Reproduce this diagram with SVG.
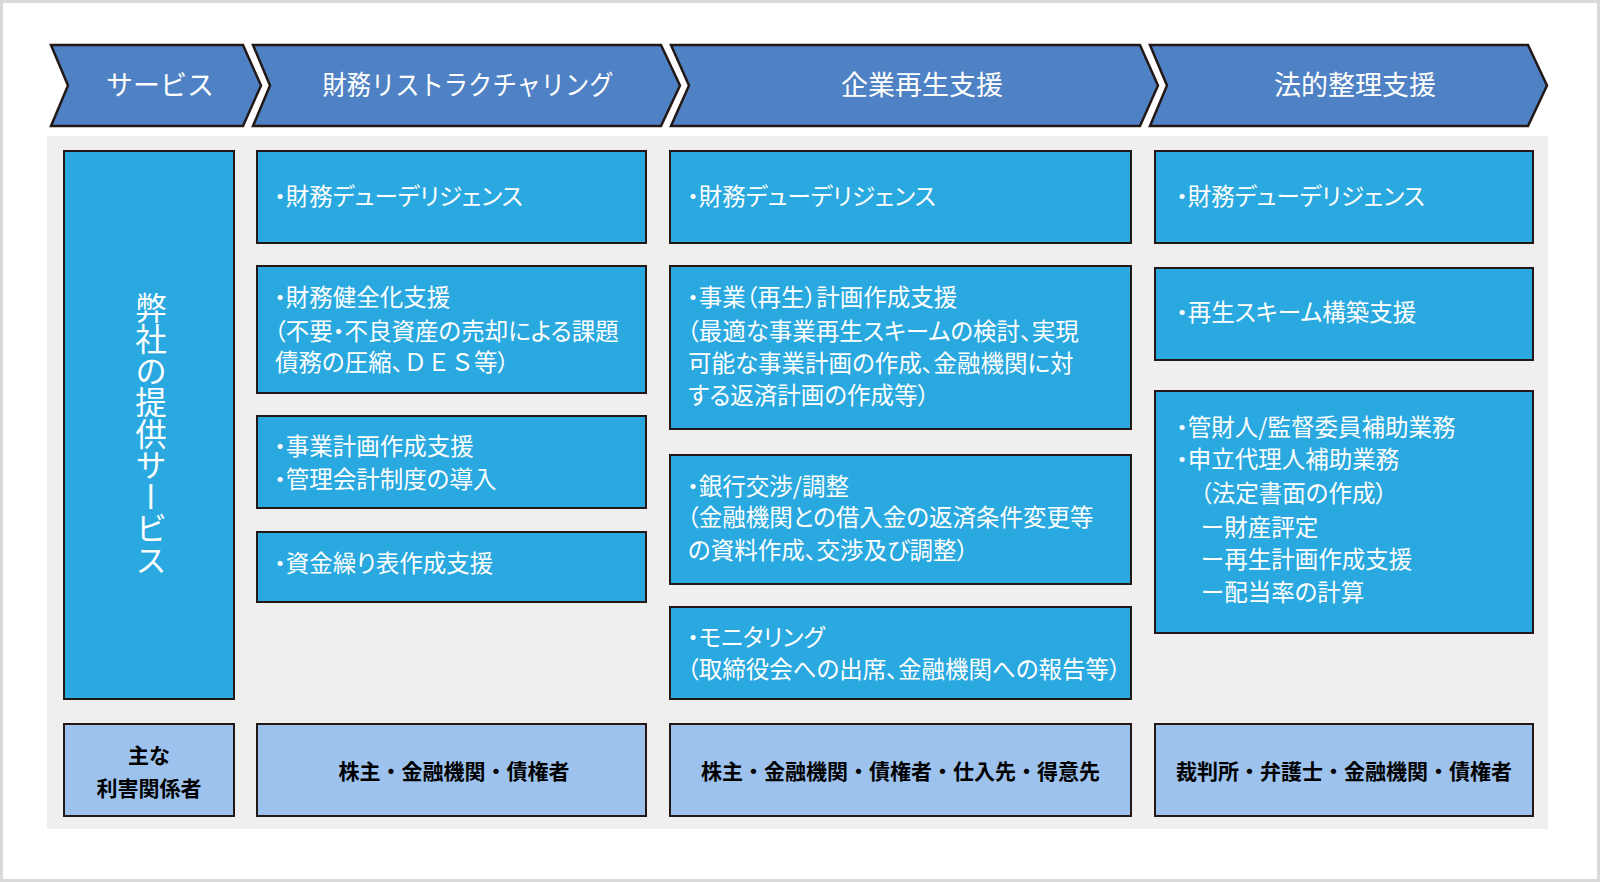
<svg xmlns="http://www.w3.org/2000/svg" width="1600" height="882" viewBox="0 0 1600 882">
<style>
text{font-family:"Noto Sans CJK JP","Noto Sans",sans-serif;}
.chev{fill:#4f82c4;stroke:#231815;stroke-width:2.5;stroke-linejoin:miter;}
.head{fill:#ffffff;font-size:27px;text-anchor:middle;}
.box{fill:#29a9e0;stroke:#231815;stroke-width:2;}
.sub{fill:#9cc2ed;stroke:#231815;stroke-width:2;}
.t{fill:#ffffff;font-size:23.5px;font-feature-settings:"palt" 1;}
.fw{font-feature-settings:normal;}
.b{fill:#000000;font-size:21px;font-weight:bold;text-anchor:middle;}
</style>
<rect x="1.5" y="1.5" width="1597" height="879" fill="#ffffff" stroke="#d9d9d9" stroke-width="3"/>
<rect x="47" y="136" width="1501" height="693" fill="#efefef"/>

<g id="header-service">
<polygon class="chev" points="51,45 243,45 261,85.5 243,126 51,126 68,85.5"/>
<text class="head" x="160" y="95">サービス</text>
</g>
<g id="header-restructuring">
<polygon class="chev" points="253,45 661,45 680,85.5 661,126 253,126 270,85.5"/>
<text class="head" x="468" y="95" textLength="291" lengthAdjust="spacingAndGlyphs">財務リストラクチャリング</text>
</g>
<g id="header-revival">
<polygon class="chev" points="671,45 1140,45 1158,85.5 1140,126 671,126 689,85.5"/>
<text class="head" x="922" y="95">企業再生支援</text>
</g>
<g id="header-legal">
<polygon class="chev" points="1150,45 1528,45 1547,85.5 1528,126 1150,126 1167,85.5"/>
<text class="head" x="1355" y="95">法的整理支援</text>
</g>

<g id="services-label">
<rect class="box" x="64" y="151" width="170" height="548"/>
<text x="151" y="434" fill="#ffffff" font-size="31.5" text-anchor="middle" writing-mode="vertical-rl" style="text-orientation:upright">弊社の提供サービス</text>
</g>

<g id="r-dd">
<rect class="box" x="257" y="151" width="389" height="92"/>
<text class="t" x="274" y="205">・財務デューデリジェンス</text>
</g>
<g id="r-health">
<rect class="box" x="257" y="266" width="389" height="127"/>
<text class="t" x="274" y="306">・財務健全化支援</text>
<text class="t" x="274" y="340">（不要・不良資産の売却による課題</text>
<text class="t" x="275" y="371">債務の圧縮、<tspan class="fw">ＤＥＳ</tspan>等）</text>
</g>
<g id="r-plan">
<rect class="box" x="257" y="416" width="389" height="92"/>
<text class="t" x="274" y="455">・事業計画作成支援</text>
<text class="t" x="274" y="488">・管理会計制度の導入</text>
</g>
<g id="r-cash">
<rect class="box" x="257" y="532" width="389" height="70"/>
<text class="t" x="274" y="572">・資金繰り表作成支援</text>
</g>

<g id="v-dd">
<rect class="box" x="670" y="151" width="461" height="92"/>
<text class="t" x="687" y="205">・財務デューデリジェンス</text>
</g>
<g id="v-plan">
<rect class="box" x="670" y="266" width="461" height="163"/>
<text class="t" x="687" y="306">・事業（再生）計画作成支援</text>
<text class="t" x="687" y="340">（最適な事業再生スキームの検討、実現</text>
<text class="t" x="688" y="372">可能な事業計画の作成、金融機関に対</text>
<text class="t" x="688" y="404">する返済計画の作成等）</text>
</g>
<g id="v-bank">
<rect class="box" x="670" y="455" width="461" height="129"/>
<text class="t" x="687" y="495">・銀行交渉/調整</text>
<text class="t" x="687" y="526">（金融機関との借入金の返済条件変更等</text>
<text class="t" x="688" y="559">の資料作成、交渉及び調整）</text>
</g>
<g id="v-monitor">
<rect class="box" x="670" y="607" width="461" height="92"/>
<text class="t" x="687" y="646">・モニタリング</text>
<text class="t" x="687" y="678">（取締役会への出席、金融機関への報告等）</text>
</g>

<g id="l-dd">
<rect class="box" x="1155" y="151" width="378" height="92"/>
<text class="t" x="1176" y="205">・財務デューデリジェンス</text>
</g>
<g id="l-scheme">
<rect class="box" x="1155" y="268" width="378" height="92"/>
<text class="t" x="1176" y="321">・再生スキーム構築支援</text>
</g>
<g id="l-trustee">
<rect class="box" x="1155" y="391" width="378" height="242"/>
<text class="t" x="1176" y="436">・管財人/監督委員補助業務</text>
<text class="t" x="1176" y="468">・申立代理人補助業務</text>
<text class="t" x="1200" y="502">（法定書面の作成）</text>
<text class="t" x="1201" y="536">ー財産評定</text>
<text class="t" x="1201" y="568">ー再生計画作成支援</text>
<text class="t" x="1201" y="601">ー配当率の計算</text>
</g>

<g id="stake-label">
<rect class="sub" x="64" y="724" width="170" height="92"/>
<text class="b" x="149" y="763">主な</text>
<text class="b" x="149" y="796">利害関係者</text>
</g>
<g id="stake-restructuring">
<rect class="sub" x="257" y="724" width="389" height="92"/>
<text class="b" x="454" y="779">株主・金融機関・債権者</text>
</g>
<g id="stake-revival">
<rect class="sub" x="670" y="724" width="461" height="92"/>
<text class="b" x="900.5" y="779">株主・金融機関・債権者・仕入先・得意先</text>
</g>
<g id="stake-legal">
<rect class="sub" x="1155" y="724" width="378" height="92"/>
<text class="b" x="1344" y="779">裁判所・弁護士・金融機関・債権者</text>
</g>

<g id="connectors"></g>
</svg>
